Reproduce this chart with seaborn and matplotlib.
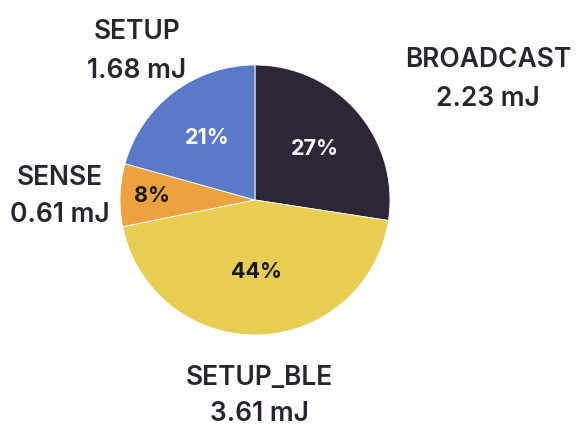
import matplotlib
matplotlib.use("Agg")
import matplotlib.pyplot as plt
import seaborn as sns

categories = ["BROADCAST", "SETUP_BLE", "SENSE", "SETUP"]
energy_mj = [2.23, 3.61, 0.61, 1.68]
value_labels = ["2.23 mJ", "3.61 mJ", "0.61 mJ", "1.68 mJ"]
colors = ["#2d2636", "#e8cd52", "#eea23f", "#5a79c7"]
pct_colors = ["white", "#1a1a1a", "#1a1a1a", "white"]

sns.set_theme(style="white")
plt.rcParams["font.family"] = ["Inter", "DejaVu Sans"]

W, H = 576, 429
fig = plt.figure(figsize=(W / 100, H / 100), dpi=100)
cx, cy, r = 255, 200, 135
ax = fig.add_axes([(cx - r) / W, (H - cy - r) / H, 2 * r / W, 2 * r / H])

wedges, texts, autotexts = ax.pie(
    energy_mj, colors=colors, startangle=90, counterclock=False,
    autopct=lambda p: f"{p:.0f}%", pctdistance=0.58,
    wedgeprops=dict(edgecolor="white", linewidth=0.6),
    textprops=dict(fontsize=15.5, fontweight="bold"))
for t, c in zip(autotexts, pct_colors):
    t.set_color(c)
# push the small SENSE label outward
x, y = autotexts[2].get_position()
autotexts[2].set_position((x * 0.76 / 0.58, y * 0.76 / 0.58))
x, y = autotexts[1].get_position()
autotexts[1].set_position((x * 0.53 / 0.58, y * 0.53 / 0.58))
ax.set_xlim(-1, 1)
ax.set_ylim(-1, 1)
ax.axis("off")

txt_color = "#2a2430"
# (center x, baseline of name, baseline of value) in pixels from top
label_pos = {
    "BROADCAST": (488, 67, 106),
    "SETUP_BLE": (259, 385, 421),
    "SENSE": (60, 185, 222),
    "SETUP": (137, 39, 78),
}
for name, val in zip(categories, value_labels):
    px, b1, b2 = label_pos[name]
    fig.text(px / W, 1 - b1 / H, name, ha="center", va="baseline",
             fontsize=19, fontweight="semibold", color=txt_color)
    fig.text(px / W, 1 - b2 / H, val, ha="center", va="baseline",
             fontsize=19, fontweight="semibold", color=txt_color)

fig.savefig("out.png", dpi=100, facecolor="white")
